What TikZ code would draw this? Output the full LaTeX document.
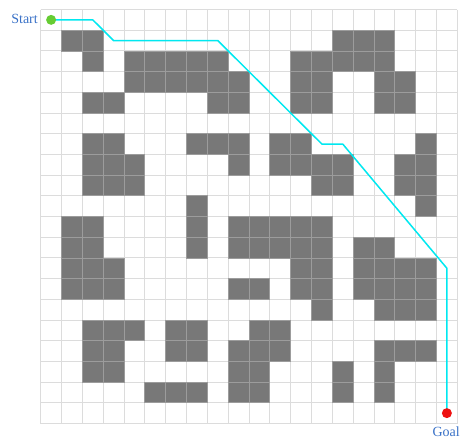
\documentclass[tikz,border=0pt]{standalone}
\usepackage{fontspec}
\setmainfont{Liberation Serif}
\definecolor{gridc}{HTML}{DCDCDC}
\definecolor{obst}{HTML}{787878}
\definecolor{obstline}{HTML}{9C9C9C}
\definecolor{pathc}{HTML}{00E8F0}
\definecolor{labc}{HTML}{3A72C8}
\definecolor{startc}{HTML}{66CC33}
\definecolor{goalc}{HTML}{EE1111}
\begin{document}
\begin{tikzpicture}[x=20.83pt,y=-20.7pt,
  gridline/.style={draw=gridc,line width=0.9pt},
  cell/.style={fill=obst,draw=obstline,line width=0.7pt},
  route/.style={draw=pathc,line width=1.5pt,line join=miter},
  dot/.style={circle,inner sep=0pt,minimum size=10pt},
  lab/.style={text=labc,font=\fontsize{14pt}{16pt}\selectfont,inner sep=0pt}]
\useasboundingbox (-1.954,-0.459) rectangle (20.178,20.749);
\fill[white] (-1.954,-0.459) rectangle (20.178,20.749);
% grid
\foreach \i in {0,...,20} {
  \draw[gridline] (\i,0) -- (\i,20);
  \draw[gridline] (0,\i) -- (20,\i);
}
% obstacles: row / list of columns
\foreach \r/\cols in {
  1/{1,2,14,15,16},
  2/{2,4,5,6,7,8,12,13,14,15,16},
  3/{4,5,6,7,8,9,12,13,16,17},
  4/{2,3,8,9,12,13,16,17},
  6/{2,3,7,8,9,11,12,18},
  7/{2,3,4,9,11,12,13,14,17,18},
  8/{2,3,4,13,14,17,18},
  9/{7,18},
  10/{1,2,7,9,10,11,12,13},
  11/{1,2,7,9,10,11,12,13,15,16},
  12/{1,2,3,12,13,15,16,17,18},
  13/{1,2,3,9,10,12,13,15,16,17,18},
  14/{13,16,17,18},
  15/{2,3,4,6,7,10,11},
  16/{2,3,6,7,9,10,11,16,17,18},
  17/{2,3,9,10,14,16},
  18/{5,6,7,9,10,14,16}} {
  \foreach \c in \cols {
    \draw[cell] (\c,\r) rectangle ++(1,1);
  }
}
% path
\coordinate (p1) at (2.5,0.5);
\coordinate (p2) at (3.5,1.5);
\coordinate (p3) at (8.5,1.5);
\coordinate (p4) at (13.5,6.5);
\coordinate (p5) at (14.5,6.5);
\coordinate (p6) at (19.5,12.5);
\coordinate (sc) at (0.5,0.5);
\coordinate (gc) at (19.5,19.5);
\draw[route] (sc) -- (p1) -- (p2) -- (p3) -- (p4) -- (p5) -- (p6) -- (gc);
\node[dot,fill=startc] (start) at (sc) {};
\node[dot,fill=goalc] (goal) at (gc) {};
\node[lab,anchor=east] (startlab) at (-0.13,0.45) {Start};
\node[lab,anchor=east] (goallab) at (20.13,20.42) {Goal};
\end{tikzpicture}
\end{document}
